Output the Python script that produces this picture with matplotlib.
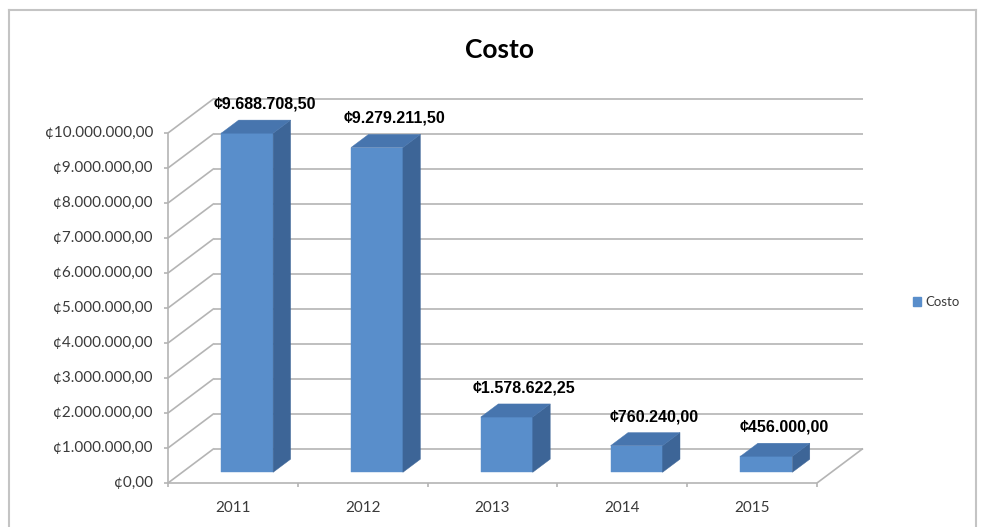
import matplotlib
matplotlib.use("Agg")
import matplotlib.pyplot as plt
from matplotlib.patches import Polygon, Patch
from matplotlib.lines import Line2D

# ---- data -------------------------------------------------------------
years = ["2011", "2012", "2013", "2014", "2015"]
costo = [9688708.50, 9279211.50, 1578622.25, 760240.00, 456000.00]
y_ticks = [0, 1e6, 2e6, 3e6, 4e6, 5e6, 6e6, 7e6, 8e6, 9e6, 10e6]
series_name = "Costo"
chart_title = "Costo"


def colones(v):
    s = f"{v:,.2f}"
    s = s.replace(",", "X").replace(".", ",").replace("X", ".")
    return "\u00a2" + s


# ---- layout (pixels) --------------------------------------------------
W, H, DPI = 982, 527, 100
ORIGIN_X, ORIGIN_Y = 168.0, 483.0     # front-left floor corner (from top)
SLOT_PX = 129.8                       # width of one category slot
VAL_PX = 35e-6                        # pixels per colon
DEPTH_X, DEPTH_Y = 46.0, 34.5         # full-depth offset of the back wall
BAR_W = 0.4
BAR_D0, BAR_D1 = 0.31, 0.69           # bar front / back depth

FRONT = "#598ecb"
SIDE = "#3d6597"
TOP = "#4775ae"
GRID = "#b4b4b4"
TXT = "#3a3a3a"

fig = plt.figure(figsize=(W / DPI, H / DPI), dpi=DPI)
fig.patch.set_facecolor("white")
ax = fig.add_axes([0, 0, 1, 1])
ax.set_xlim(-ORIGIN_X / SLOT_PX, (W - ORIGIN_X) / SLOT_PX)
ax.set_ylim((ORIGIN_Y - H) / VAL_PX, ORIGIN_Y / VAL_PX)
ax.axis("off")

DU = DEPTH_X / SLOT_PX
DV = DEPTH_Y / VAL_PX
n = len(years)


def proj(u, v, d):
    return (u + d * DU, v + d * DV)


def seg(p, q, **kw):
    ax.plot([p[0], q[0]], [p[1], q[1]], solid_capstyle="butt", **kw)


# back wall gridlines and side wall diagonals
for t in y_ticks:
    seg(proj(0, t, 1), proj(n, t, 1), color=GRID, lw=1.2, zorder=1)
    seg(proj(0, t, 0), proj(0, t, 1), color=GRID, lw=1.2, zorder=1)

# floor outline
seg(proj(0, 0, 0), proj(n, 0, 0), color=GRID, lw=1.2, zorder=1)
seg(proj(n, 0, 0), proj(n, 0, 1), color=GRID, lw=1.2, zorder=1)

# value axis with ticks
seg(proj(0, 0, 0), proj(0, y_ticks[-1], 0), color=GRID, lw=1.2, zorder=1)
tick_u = 4.0 / SLOT_PX
tick_v = 4.0 / VAL_PX
for t in y_ticks:
    seg((-tick_u, t), (0, t), color=GRID, lw=1.2, zorder=1)
    ax.text(-15.0 / SLOT_PX, t, colones(t), ha="right", va="center",
            fontsize=11, family="Lato", color=TXT)

# category axis ticks and labels
for k in range(n + 1):
    seg((k, 0), (k, -tick_v), color=GRID, lw=1.2, zorder=1)
for k, yr in enumerate(years):
    ax.text(k + 0.5, -25.0 / VAL_PX, yr, ha="center", va="center",
            fontsize=11, family="Lato", color=TXT)

# bars: front faces through ax.bar, then side and top faces
centers = [k + 0.5 + BAR_D0 * DU for k in range(n)]
ax.bar(centers, costo, width=BAR_W, bottom=BAR_D0 * DV, color=FRONT,
       edgecolor=FRONT, linewidth=0.3, zorder=3)
for k, v in enumerate(costo):
    left = k + 0.5 - BAR_W / 2
    right = k + 0.5 + BAR_W / 2
    side = [proj(right, 0, BAR_D0), proj(right, 0, BAR_D1),
            proj(right, v, BAR_D1), proj(right, v, BAR_D0)]
    top = [proj(left, v, BAR_D0), proj(right, v, BAR_D0),
           proj(right, v, BAR_D1), proj(left, v, BAR_D1)]
    ax.add_patch(Polygon(side, closed=True, facecolor=SIDE, edgecolor=SIDE,
                         lw=0.3, zorder=3))
    ax.add_patch(Polygon(top, closed=True, facecolor=TOP, edgecolor=TOP,
                         lw=0.3, zorder=3))
    lx, ly = proj(k + 0.5, v, BAR_D1)
    ax.annotate(colones(v), (lx, ly), xytext=(0, 11.5), textcoords="offset points",
                ha="center", va="center", fontsize=11.5, fontweight="bold",
                family="Liberation Sans", color="black", zorder=5)

# title
fig.text(500 / W, 1 - 50 / H, chart_title, ha="center", va="center",
         fontsize=19, fontweight="bold", family="Lato", color="black")

# legend
fig.legend(handles=[Patch(facecolor=FRONT, edgecolor=FRONT, label=series_name)],
           loc="center left", bbox_to_anchor=(913 / W, 1 - 302 / H),
           frameon=False, handlelength=0.6, handleheight=0.6,
           handletextpad=0.35, borderpad=0, borderaxespad=0,
           prop={"family": "Lato", "size": 9.5}, labelcolor=TXT)

# chart frame
for (x0, y0, x1, y1) in [(8.5, 10, 8.5, H), (8.5, 10, 976, 10), (976, 10, 976, H)]:
    fig.add_artist(Line2D([x0 / W, x1 / W], [1 - y0 / H, 1 - y1 / H],
                          color="#c4c4c4", lw=1.5, transform=fig.transFigure))

fig.savefig("out.png", dpi=DPI, facecolor="white")
